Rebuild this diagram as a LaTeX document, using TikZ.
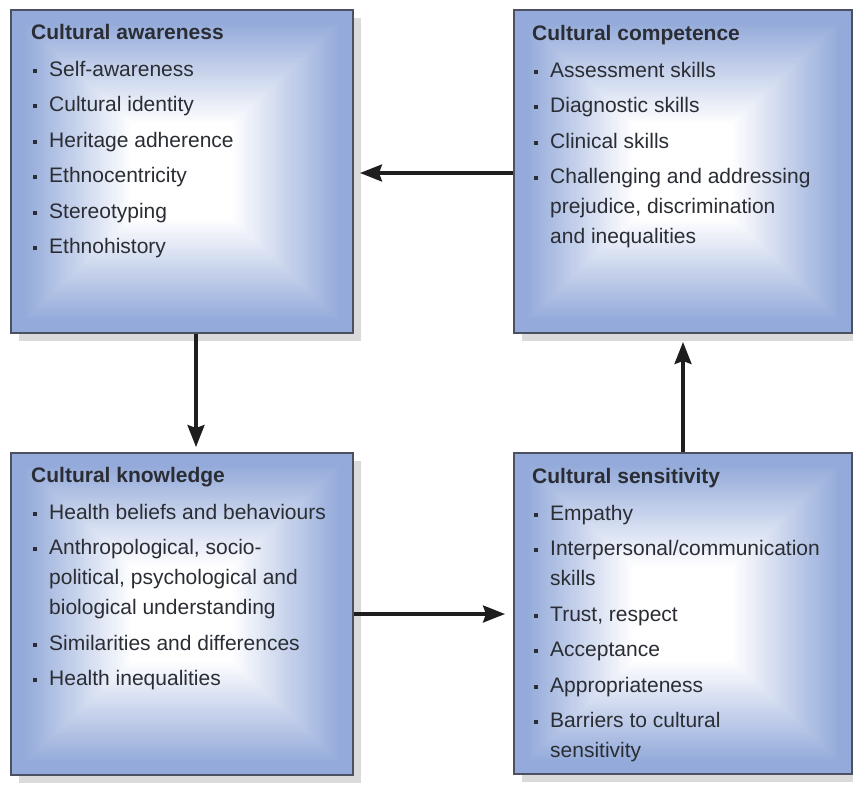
\documentclass[tikz,border=0pt]{standalone}
\usepackage{fontspec}
\setmainfont{Liberation Sans}
\usetikzlibrary{calc,arrows.meta,shadows}
\definecolor{boxblue}{HTML}{93AADA}
\definecolor{boxline}{HTML}{4B5160}
\definecolor{txt}{HTML}{2A2D34}
\definecolor{arrowcol}{HTML}{1E1E1E}
\definecolor{shadowgray}{HTML}{DADADA}
\newcommand\myitem{\hspace*{2pt}\makebox[16pt][l]{\raisebox{3.5pt}{\rule{4pt}{4pt}}}}
\newcommand\myindent{\hspace*{18pt}}
\tikzset{
  cbox/.style={rectangle, draw=boxline, line width=2pt, inner sep=0pt,
    general shadow={fill=shadowgray, shadow xshift=8pt, shadow yshift=-8pt},
    path picture={
      \foreach \i in {0,...,60}{
        \pgfmathsetmacro\tt{\i/60*0.72}
        \pgfmathtruncatemacro\cc{max(0,min(100,112-\i*1.9))}
        \fill[boxblue!\cc!white]
          ($(path picture bounding box.north west)!\tt!(path picture bounding box.center)$)
          rectangle
          ($(path picture bounding box.south east)!\tt!(path picture bounding box.center)$);
      }
    }},
  ctext/.style={anchor=north west, inner sep=0pt, align=left, text=txt,
    font=\fontsize{21}{30}\selectfont},
  arr/.style={draw=arrowcol, line width=3.2pt,
    -{Stealth[length=22pt,width=17pt,inset=3pt]}}
}
\begin{document}
\begin{tikzpicture}[x=1pt,y=-1pt]
\useasboundingbox (0,0) rectangle (853,784);
\fill[white] (0,0) rectangle (853,784);

\node[cbox, minimum width=342pt, minimum height=323pt] (aw) at (182,171.5) {};
\node[cbox, minimum width=338pt, minimum height=323pt] (co) at (683,171.5) {};
\node[cbox, minimum width=342pt, minimum height=322pt] (kn) at (182,614) {};
\node[cbox, minimum width=338pt, minimum height=321pt] (se) at (683,613.5) {};

\node[ctext] (taw) at ([xshift=21pt,yshift=-15pt]aw.north west) {%
\textbf{Cultural awareness}\\[7pt]
\myitem Self-awareness\\[5.5pt]
\myitem Cultural identity\\[5.5pt]
\myitem Heritage adherence\\[5.5pt]
\myitem Ethnocentricity\\[5.5pt]
\myitem Stereotyping\\[5.5pt]
\myitem Ethnohistory};

\node[ctext] (tco) at ([xshift=19pt,yshift=-16pt]co.north west) {%
\textbf{Cultural competence}\\[7pt]
\myitem Assessment skills\\[5.5pt]
\myitem Diagnostic skills\\[5.5pt]
\myitem Clinical skills\\[5.5pt]
\myitem Challenging and addressing\\
\myindent prejudice, discrimination\\
\myindent and inequalities};

\node[ctext] (tkn) at ([xshift=21pt,yshift=-15pt]kn.north west) {%
\textbf{Cultural knowledge}\\[7pt]
\myitem Health beliefs and behaviours\\[5.5pt]
\myitem Anthropological, socio-\\
\myindent political, psychological and\\
\myindent biological understanding\\[5.5pt]
\myitem Similarities and differences\\[5.5pt]
\myitem Health inequalities};

\node[ctext] (tse) at ([xshift=19pt,yshift=-16pt]se.north west) {%
\textbf{Cultural sensitivity}\\[7pt]
\myitem Empathy\\[5.5pt]
\myitem Interpersonal/communication\\
\myindent skills\\[5.5pt]
\myitem Trust, respect\\[5.5pt]
\myitem Acceptance\\[5.5pt]
\myitem Appropriateness\\[5.5pt]
\myitem Barriers to cultural\\
\myindent sensitivity};

\draw[arr, shorten >=5pt] ([xshift=14pt]aw.south) -- ([xshift=14pt]kn.north);
\draw[arr, shorten >=6pt] (co.west |- 0,173) -- (aw.east |- 0,173);
\draw[arr, shorten >=8pt] (kn.east) -- (se.west |- kn.east);
\draw[arr, shorten >=8pt] (se.north) -- (co.south);
\end{tikzpicture}
\end{document}
